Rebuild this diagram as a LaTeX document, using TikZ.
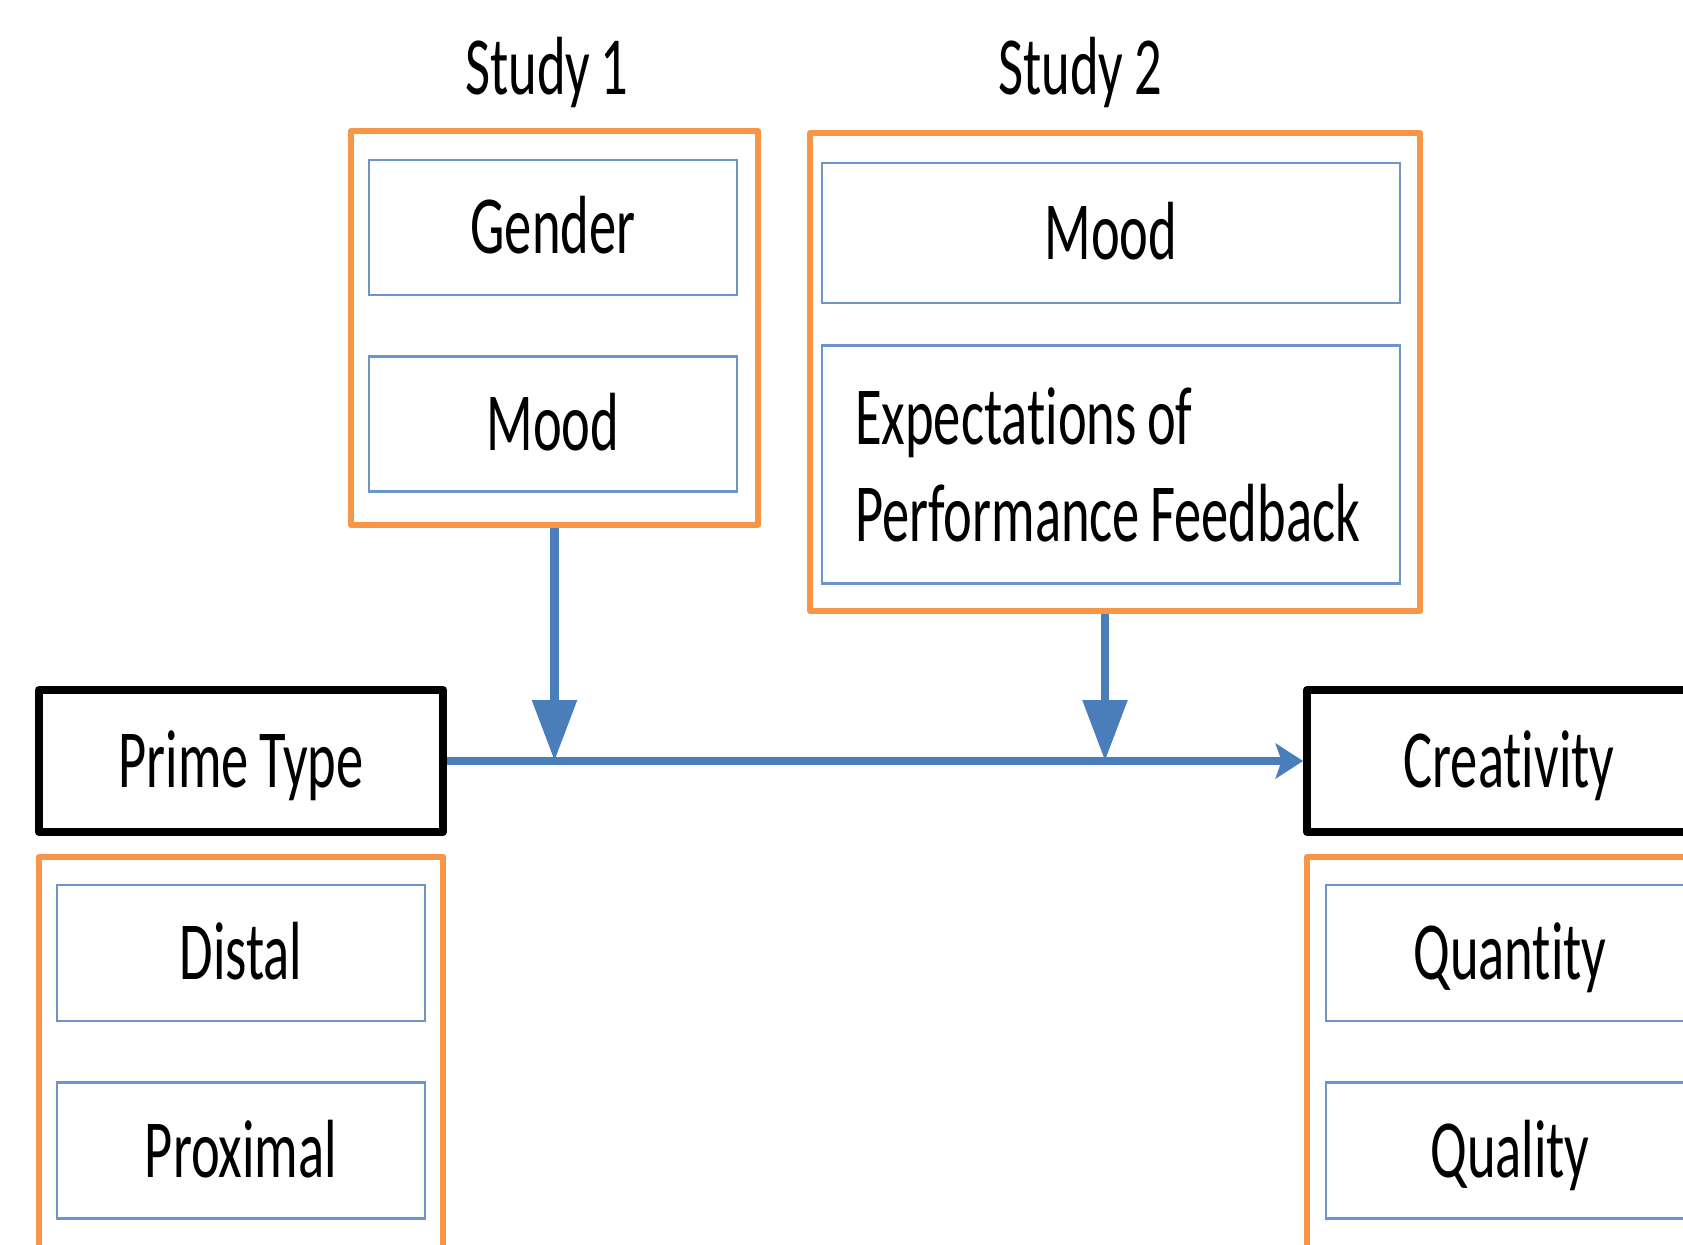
\documentclass[tikz,border=0pt]{standalone}
\usepackage{fontspec}
\setmainfont{Carlito}[FakeStretch=0.66, Ligatures=NoCommon, WordSpace=0.85]
\usepackage{tikz}
\usetikzlibrary{shapes,arrows.meta}
\usetikzlibrary{calc}
\usetikzlibrary{positioning}
\definecolor{studyorange}{HTML}{F79646}
\definecolor{itemblue}{HTML}{6D95CB}
\definecolor{flowblue}{HTML}{4A7EBB}
\tikzstyle{studybox} = [draw=studyorange, line width=3.4pt, rectangle, line join=round]
\tikzstyle{itembox} = [draw=itemblue, line width=1.6pt, rectangle,
    minimum width=7.36cm, minimum height=2.72cm, text height=30pt, text depth=0pt]
\tikzstyle{varbox} = [draw=black, line width=4.5pt, rectangle, line join=round,
    minimum width=8.08cm, minimum height=2.84cm, text height=30pt, text depth=0pt]
\tikzstyle{flowline} = [draw=flowblue, line width=5pt]

\begin{document}
\begin{tikzpicture}[x=0.02cm, y=-0.02cm, node distance=1.18cm,
    font=\fontsize{47}{55}\selectfont,
    >={Stealth[width=0.7cm,length=0.55cm,inset=0.12cm]}]
    \useasboundingbox (0,0) rectangle (1683,1244);

    % We start by placing the blocks
    \node [varbox] (prime) at (241,761) {Prime Type};
    \node [varbox] (creativity) at (1509,761) {Creativity};

    \node [studybox, minimum width=8.14cm, minimum height=7.88cm] (study1) at (554.5,328) {};
    \node [itembox, minimum height=2.7cm] (gender) at (553,227.5) {Gender};
    \node [itembox, minimum height=2.7cm, below=of gender] (mood1) {Mood};
    \node [anchor=base] (label1) at (547,94) {Study 1};

    \node [studybox, minimum width=12.2cm, minimum height=9.56cm] (study2) at (1115,372) {};
    \node [itembox, minimum width=11.56cm, minimum height=2.8cm] (mood2) at (1111,233) {Mood};
    \node [draw=itemblue, line width=1.6pt, rectangle, below=0.8cm of mood2,
        minimum width=11.56cm, minimum height=4.76cm, text width=10.24cm, align=flush left]
        (expect) {\mbox{Expectations of}\\\mbox{Performance Feedback}};
    \node [anchor=base] (label2) at (1080,94) {Study 2};

    \node [studybox, minimum width=8.08cm, minimum height=8.06cm] (primes) at (241,1058) {};
    \node [itembox] (distal) at (241,953) {Distal};
    \node [itembox, below=of distal] (proximal) {Proximal};

    \node [studybox, minimum width=8.08cm, minimum height=8.06cm] (measures) at (1509,1058) {};
    \node [itembox] (quantity) at (1510,953) {Quantity};
    \node [itembox, below=of quantity] (quality) {Quality};

    % Once the nodes are placed, connecting them is easy.
    \coordinate (drop1) at (study1.south);
    \coordinate (drop2) at ([xshift=-0.2cm]study2.south);
    \coordinate (join1) at (drop1 |- prime.east);
    \coordinate (join2) at (drop2 |- prime.east);
    \draw [flowline, ->] (prime.east) -- (creativity.west);
    \draw [flowline, -{Triangle[width=0.86cm,length=1.22cm]}] (drop1) -- (join1);
    \draw [flowline, -{Triangle[width=0.86cm,length=1.22cm]}] (drop2) -- (join2);
\end{tikzpicture}
\end{document}
